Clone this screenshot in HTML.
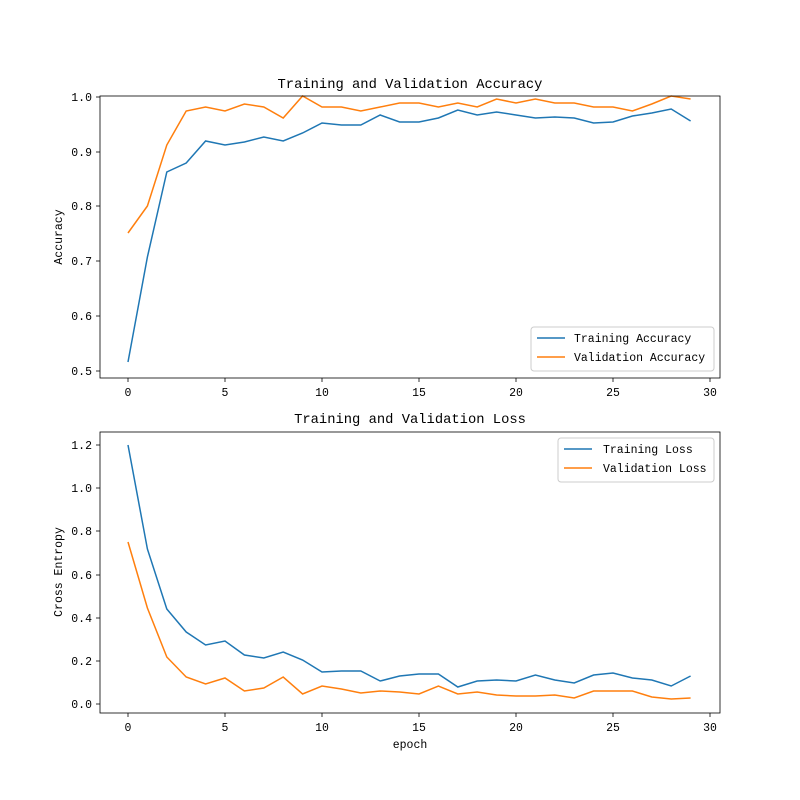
<!DOCTYPE html>
<html><head><meta charset="utf-8"><style>body{margin:0;background:#fff}svg{display:block}text{font-family:"Liberation Mono",monospace;fill:#000}</style></head><body>
<svg width="800" height="800" xmlns="http://www.w3.org/2000/svg">
<rect width="800" height="800" fill="#fff"/>
<g id="top">
<text x="410" y="88" font-size="13.8" text-anchor="middle">Training and Validation Accuracy</text>
<polyline fill="none" stroke="#1f77b4" stroke-width="1.5" points="128,362 147.4,257 166.8,172 186.2,163 205.6,141 225,145 244.4,142 263.8,137 283.2,141 302.6,133 322,123 341.4,125 360.8,125 380.2,115 399.6,122 419,122 438.4,118 457.8,110 477.2,115 496.6,112 516,115 535.4,118 554.8,117 574.2,118 593.6,123 613,122 632.4,116 651.8,113 671.2,109 690.6,121"/>
<polyline fill="none" stroke="#ff7f0e" stroke-width="1.5" points="128,233 147.4,206 166.8,145 186.2,111 205.6,107 225,111 244.4,104 263.8,107 283.2,118 302.6,96 322,107 341.4,107 360.8,111 380.2,107 399.6,103 419,103 438.4,107 457.8,103 477.2,107 496.6,99 516,103 535.4,99 554.8,103 574.2,103 593.6,107 613,107 632.4,111 651.8,104 671.2,96 690.6,99"/>
<rect x="100" y="96" width="620" height="282" fill="none" stroke="#000" stroke-width="0.8"/>
<g stroke="#000" stroke-width="0.8">
<line x1="128" y1="378" x2="128" y2="382"/><line x1="225" y1="378" x2="225" y2="382"/><line x1="322" y1="378" x2="322" y2="382"/><line x1="419" y1="378" x2="419" y2="382"/><line x1="516" y1="378" x2="516" y2="382"/><line x1="613" y1="378" x2="613" y2="382"/><line x1="710" y1="378" x2="710" y2="382"/>
<line x1="96" y1="97" x2="100" y2="97"/><line x1="96" y1="152" x2="100" y2="152"/><line x1="96" y1="206" x2="100" y2="206"/><line x1="96" y1="261" x2="100" y2="261"/><line x1="96" y1="316" x2="100" y2="316"/><line x1="96" y1="371" x2="100" y2="371"/>
</g>
<g font-size="11.5" text-anchor="middle">
<text x="128" y="396">0</text><text x="225" y="396">5</text><text x="322" y="396">10</text><text x="419" y="396">15</text><text x="516" y="396">20</text><text x="613" y="396">25</text><text x="710" y="396">30</text>
</g>
<g font-size="11.5" text-anchor="end">
<text x="92" y="101">1.0</text><text x="92" y="156">0.9</text><text x="92" y="210">0.8</text><text x="92" y="265">0.7</text><text x="92" y="320">0.6</text><text x="92" y="375">0.5</text>
</g>
<text transform="translate(62,237) rotate(-90)" font-size="11.5" text-anchor="middle">Accuracy</text>
<rect x="531" y="327" width="183" height="44" rx="3" fill="#fff" stroke="#ccc"/>
<line x1="537" y1="338" x2="565" y2="338" stroke="#1f77b4" stroke-width="1.5"/>
<text x="574" y="342" font-size="11.5">Training Accuracy</text>
<line x1="537" y1="357" x2="565" y2="357" stroke="#ff7f0e" stroke-width="1.5"/>
<text x="574" y="361" font-size="11.5">Validation Accuracy</text>
</g>
<g id="bot">
<text x="410" y="423" font-size="13.8" text-anchor="middle">Training and Validation Loss</text>
<polyline fill="none" stroke="#1f77b4" stroke-width="1.5" points="128,445 147.4,549 166.8,609 186.2,632 205.6,645 225,641 244.4,655 263.8,658 283.2,652 302.6,660 322,672 341.4,671 360.8,671 380.2,681 399.6,676 419,674 438.4,674 457.8,687 477.2,681 496.6,680 516,681 535.4,675 554.8,680 574.2,683 593.6,675 613,673 632.4,678 651.8,680 671.2,686 690.6,676"/>
<polyline fill="none" stroke="#ff7f0e" stroke-width="1.5" points="128,542 147.4,608 166.8,657 186.2,677 205.6,684 225,678 244.4,691 263.8,688 283.2,677 302.6,694 322,686 341.4,689 360.8,693 380.2,691 399.6,692 419,694 438.4,686 457.8,694 477.2,692 496.6,695 516,696 535.4,696 554.8,695 574.2,698 593.6,691 613,691 632.4,691 651.8,697 671.2,699 690.6,698"/>
<rect x="100" y="432" width="620" height="281" fill="none" stroke="#000" stroke-width="0.8"/>
<g stroke="#000" stroke-width="0.8">
<line x1="128" y1="713" x2="128" y2="717"/><line x1="225" y1="713" x2="225" y2="717"/><line x1="322" y1="713" x2="322" y2="717"/><line x1="419" y1="713" x2="419" y2="717"/><line x1="516" y1="713" x2="516" y2="717"/><line x1="613" y1="713" x2="613" y2="717"/><line x1="710" y1="713" x2="710" y2="717"/>
<line x1="96" y1="445" x2="100" y2="445"/><line x1="96" y1="488" x2="100" y2="488"/><line x1="96" y1="531" x2="100" y2="531"/><line x1="96" y1="575" x2="100" y2="575"/><line x1="96" y1="618" x2="100" y2="618"/><line x1="96" y1="661" x2="100" y2="661"/><line x1="96" y1="704" x2="100" y2="704"/>
</g>
<g font-size="11.5" text-anchor="middle">
<text x="128" y="731">0</text><text x="225" y="731">5</text><text x="322" y="731">10</text><text x="419" y="731">15</text><text x="516" y="731">20</text><text x="613" y="731">25</text><text x="710" y="731">30</text>
</g>
<g font-size="11.5" text-anchor="end">
<text x="92" y="449">1.2</text><text x="92" y="492">1.0</text><text x="92" y="535">0.8</text><text x="92" y="579">0.6</text><text x="92" y="622">0.4</text><text x="92" y="665">0.2</text><text x="92" y="708">0.0</text>
</g>
<text transform="translate(62,572) rotate(-90)" font-size="11.5" text-anchor="middle">Cross Entropy</text>
<text x="410" y="748" font-size="11.5" text-anchor="middle">epoch</text>
<rect x="558" y="438" width="156" height="44" rx="3" fill="#fff" stroke="#ccc"/>
<line x1="564" y1="449" x2="592" y2="449" stroke="#1f77b4" stroke-width="1.5"/>
<text x="603" y="453" font-size="11.5">Training Loss</text>
<line x1="564" y1="468" x2="592" y2="468" stroke="#ff7f0e" stroke-width="1.5"/>
<text x="603" y="472" font-size="11.5">Validation Loss</text>
</g>
</svg>
</body></html>
